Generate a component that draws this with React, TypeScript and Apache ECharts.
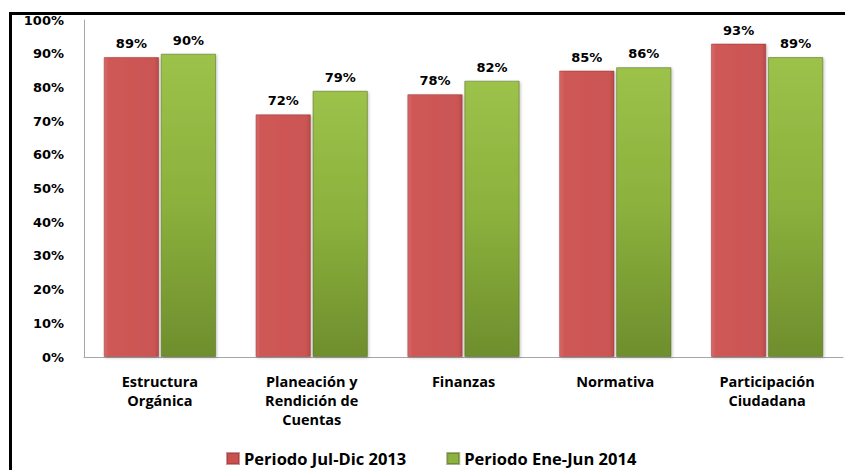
import React, { useEffect, useRef } from "react";
import * as echarts from "echarts";

const categories = [
  "Estructura\nOrgánica",
  "Planeación y\nRendición de\nCuentas",
  "Finanzas",
  "Normativa",
  "Participación\nCiudadana",
];
const seriesNames = ["Periodo Jul-Dic 2013", "Periodo Ene-Jun 2014"];
const values2013 = [89, 72, 78, 85, 93];
const values2014 = [90, 79, 82, 86, 89];

export default function App() {
  const ref = useRef<HTMLDivElement>(null);
  useEffect(() => {
    document.body.style.margin = "0";
    if (!ref.current) return;
    const chart = echarts.init(ref.current, null, { renderer: "svg" });
    const redFill = new echarts.graphic.LinearGradient(0, 0, 1, 0, [
      { offset: 0, color: "#d86a68" },
      { offset: 0.08, color: "#cf5957" },
      { offset: 0.92, color: "#cb5553" },
      { offset: 1, color: "#b84a48" },
    ]);
    const greenFill = new echarts.graphic.LinearGradient(0, 0, 0, 1, [
      { offset: 0, color: "#9dc24a" },
      { offset: 0.5, color: "#8bb03c" },
      { offset: 1, color: "#6e8e2d" },
    ]);
    const labelStyle = {
      show: true,
      position: "top" as const,
      distance: 7,
      formatter: "{c}%",
      fontFamily: "DejaVu Sans",
      fontWeight: "bold" as const,
      fontSize: 13,
      color: "#000",
    };
    chart.setOption({
      animation: false,
      grid: { left: 84, right: 2, top: 20, bottom: 113, containLabel: false },
      legend: {
        left: 226,
        top: 450,
        padding: 0,
        itemWidth: 12,
        itemHeight: 11,
        itemGap: 40,
        icon: "rect",
        textStyle: {
          fontFamily: "Open Sans",
          fontWeight: "bold",
          fontSize: 16.5,
          lineHeight: 15,
          color: "#000",
        },
        data: [
          { name: seriesNames[0], itemStyle: { color: "#c9504e" } },
          { name: seriesNames[1], itemStyle: { color: "#8db23f" } },
        ],
      },
      xAxis: {
        type: "category",
        data: categories,
        axisLine: { show: true, lineStyle: { color: "#a6a6a6", width: 1 } },
        axisTick: { show: false },
        axisLabel: {
          interval: 0,
          margin: 15,
          lineHeight: 19,
          fontFamily: "Open Sans",
          fontWeight: "bold",
          fontSize: 14.5,
          color: "#000",
        },
      },
      yAxis: {
        type: "value",
        min: 0,
        max: 100,
        interval: 10,
        axisLine: { show: true, lineStyle: { color: "#a6a6a6", width: 1 } },
        axisTick: { show: false },
        splitLine: { show: false },
        axisLabel: {
          formatter: "{value}%",
          margin: 20,
          fontFamily: "DejaVu Sans",
          fontWeight: "bold",
          fontSize: 13,
          color: "#000",
        },
      },
      series: [
        {
          name: seriesNames[0],
          type: "bar",
          data: values2013,
          barGap: "3%",
          barCategoryGap: "26%",
          itemStyle: {
            color: redFill,
            borderColor: "rgba(150,50,50,0.5)",
            borderWidth: 1,
            shadowColor: "rgba(0,0,0,0.25)",
            shadowBlur: 3,
            shadowOffsetX: 1,
            shadowOffsetY: 1,
          },
          label: labelStyle,
        },
        {
          name: seriesNames[1],
          type: "bar",
          data: values2014,
          itemStyle: {
            color: greenFill,
            borderColor: "rgba(80,100,30,0.5)",
            borderWidth: 1,
            shadowColor: "rgba(0,0,0,0.25)",
            shadowBlur: 3,
            shadowOffsetX: 1,
            shadowOffsetY: 1,
          },
          label: labelStyle,
        },
      ],
      graphic: [
        {
          type: "rect",
          silent: true,
          z: 100,
          shape: { x: 10.5, y: 13.5, width: 900, height: 600 },
          style: { fill: "none", stroke: "#000", lineWidth: 3 },
        },
      ],
    });
    return () => chart.dispose();
  }, []);
  return <div ref={ref} style={{ width: 845, height: 470 }} />;
}
